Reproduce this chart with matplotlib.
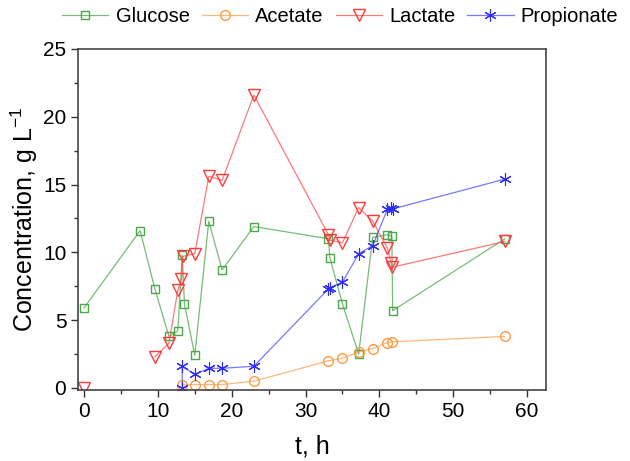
import numpy as np
import matplotlib
matplotlib.use('Agg')
import matplotlib.pyplot as plt
from matplotlib.ticker import MultipleLocator

plt.rcParams['font.family'] = ['Liberation Sans', 'DejaVu Sans']

# glucose
t_glu = [0, 7.6, 9.6, 11.5, 12.7, 13.3, 13.6, 15.0, 16.9, 18.7, 23.0,
         33.1, 33.3, 35.0, 37.2, 39.1, 41.1, 41.7, 41.8, 57.0]
glucose = [5.9, 11.6, 7.3, 3.8, 4.2, 9.8, 6.2, 2.4, 12.3, 8.7, 11.9,
           11.0, 9.6, 6.2, 2.5, 11.1, 11.3, 11.2, 5.7, 11.0]

# acetate
t_ace = [13.3, 15.0, 16.9, 18.7, 23.0, 33.1, 35.0, 37.2, 39.1, 41.1, 41.7, 57.0]
acetate = [0.25, 0.25, 0.25, 0.25, 0.5, 2.0, 2.2, 2.65, 2.9, 3.35, 3.4, 3.8]

# lactate (no sample at 7.6 h)
t_lac = [0, 7.6, 9.6, 11.5, 12.7, 13.2, 13.4, 15.0, 16.9, 18.7, 23.0,
         33.1, 33.3, 35.0, 37.2, 39.1, 41.1, 41.6, 41.7, 57.0]
lactate = [0, np.nan, 2.3, 3.3, 7.2, 8.0, 9.7, 9.9, 15.6, 15.3, 21.6,
           11.3, 10.9, 10.7, 13.3, 12.3, 10.3, 9.2, 8.9, 10.8]

# propionate
t_pro = [13.3, 13.3, 15.0, 16.9, 18.7, 23.0, 33.1, 33.3, 35.0, 37.2, 39.1,
         41.1, 41.6, 41.8, 57.0]
propionate = [0, 1.6, 1.0, 1.45, 1.45, 1.6, 7.3, 7.4, 7.8, 9.9, 10.5,
              13.2, 13.3, 13.2, 15.4]

fig = plt.figure(figsize=(6.3, 4.61), dpi=100)
ax = fig.add_axes([0.124, 0.154, 0.743, 0.740])

def rgba(c, a):
    return matplotlib.colors.to_rgba(c, a)

ax.plot(t_glu, glucose, color=rgba('#3f9f3f', 0.7), lw=0.9, marker='s', ms=6,
        mfc='none', mec='#4aa84a', mew=1.0, label='Glucose')
ax.plot(t_ace, acetate, color=rgba('#ff9a40', 0.7), lw=0.9, marker='o', ms=7,
        mfc='none', mec='#ff9a40', mew=1.0, label='Acetate')
ax.plot(t_lac, lactate, color=rgba('#ff4040', 0.7), lw=0.9, marker='v', ms=8,
        mfc='none', mec='#ff3a3a', mew=1.0, label='Lactate')
ax.plot(t_pro, propionate, color=rgba('#3030ff', 0.65), lw=0.9, marker=(6, 2, 0), ms=9,
        mfc='none', mec='#2a2aff', mew=0.8, label='Propionate')

ax.set_xlim(-0.8, 62.6)
ax.set_ylim(-0.15, 25)
ax.xaxis.set_major_locator(MultipleLocator(10))
ax.xaxis.set_minor_locator(MultipleLocator(5))
ax.yaxis.set_major_locator(MultipleLocator(5))
ax.yaxis.set_minor_locator(MultipleLocator(2.5))
ax.tick_params(which='major', direction='out', length=5, width=1.0, labelsize=15, color='#333333')
ax.tick_params(which='minor', direction='out', length=3, width=1.0, color='#333333')
for s in ax.spines.values():
    s.set_color('#444444')
    s.set_linewidth(1.2)

ax.set_xlabel('t, h', fontsize=18, labelpad=10)
ax.set_ylabel('Concentration, g L$^{\\mathregular{-1}}$', fontsize=18, labelpad=2)

fig.legend(loc='upper center', bbox_to_anchor=(0.54, 1.025), ncol=4, frameon=False,
           fontsize=14.5, handlelength=2.3, columnspacing=0.6, handletextpad=0.35)

fig.savefig('out.png', dpi=100)
